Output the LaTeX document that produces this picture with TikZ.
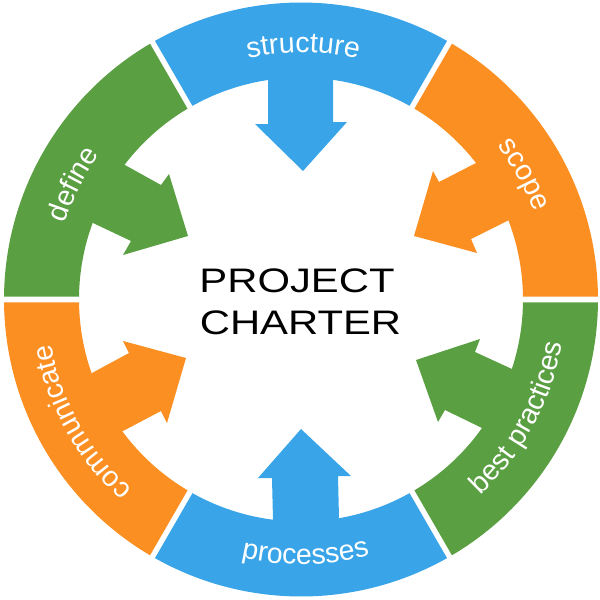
\documentclass[tikz,border=0pt]{standalone}
\usepackage{xcolor}
\usepackage{fontspec}
\setmainfont{Liberation Sans}
\newfontfamily\titlefont[FakeStretch=1.23]{Liberation Sans}
\usetikzlibrary{decorations.text}
\definecolor{ringblue}{HTML}{39A5E8}
\definecolor{ringgreen}{HTML}{5A9F42}
\definecolor{ringorange}{HTML}{FC8F22}
\newcommand{\ringfont}{\fontsize{28.5}{28.5}\selectfont\color{white}}
\newcommand{\ringseg}[3]{\fill [#3] (#1+0.55:297pt) arc (#1+0.55:#2-0.55:297pt) -- (#2-0.73:222pt) arc (#2-0.73:#1+0.73:222pt) -- cycle;}
\tikzstyle{title}=[font=\titlefont\fontsize{34}{34}\selectfont,align=center,inner sep=0pt]
\tikzset{ringtext/.style={decorate,decoration={text along path,text align=center,text={|\ringfont|#1}}}}

\begin{document}
\begin{tikzpicture}[x=1pt,y=-1pt]
      \useasboundingbox (0,0) rectangle (600,600);
      \begin{scope}[shift={(301,299.5)}]
      \ringseg{60}{120}{ringblue}
      \ringseg{0}{60}{ringorange}
      \ringseg{-60}{0}{ringgreen}
      \ringseg{-120}{-60}{ringblue}
      \ringseg{-180}{-120}{ringorange}
      \ringseg{120}{180}{ringgreen}
      \end{scope}
      % arrows, drawn into the ring
      \fill [ringblue] (301,40) -- (268,80) -- (268,124) -- (255,124) -- (303,171) -- (347,122) -- (333,122) -- (333,80) -- cycle;
      \fill [ringorange] (530,170) -- (476,163) -- (439,182) -- (433,171) -- (414,236) -- (477,253) -- (471,239) -- (509,220) -- cycle;
      \fill [ringgreen] (530,430) -- (512,369) -- (475,352) -- (480,339) -- (416,360) -- (438,422) -- (445,410) -- (482,428) -- cycle;
      \fill [ringblue] (303,560) -- (339,518) -- (338,476) -- (351,476) -- (301,429) -- (258,478) -- (272,478) -- (273,520) -- cycle;
      \fill [ringorange] (70,430) -- (123,431) -- (161,411) -- (167,423) -- (186,358) -- (123,341) -- (129,353) -- (92,373) -- cycle;
      \fill [ringgreen] (70,170) -- (125,165) -- (161,185) -- (169,174) -- (188,236) -- (123,255) -- (131,241) -- (93,223) -- cycle;
      % labels on the ring
      \begin{scope}[shift={(301,299.5)}]
      \path [ringtext={structure}] (129.5:247pt) arc (129.5:49.5:247pt);
      \path [ringtext={scope}] (69.3:249pt) arc (69.3:-10.7:249pt);
      \path [ringtext={best practices}] (-68.5:265pt) arc (-68.5:11.5:265pt);
      \path [ringtext={processes}] (-129:265pt) arc (-129:-49:265pt);
      \path [ringtext={communicate}] (-110.8:254pt) arc (-110.8:-190.8:254pt);
      \path [ringtext={define}] (193.2:248pt) arc (193.2:113.2:248pt);
      \end{scope}
      \node (project) [title] at (297,280.5) {PROJECT};
      \node (charter) [title] at (300.5,322.5) {CHARTER};
    \end{tikzpicture}
\end{document}
